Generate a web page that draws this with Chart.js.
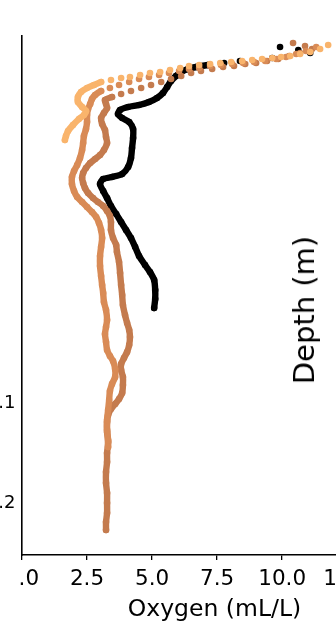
<!DOCTYPE html>
<html>
<head>
<meta charset="utf-8">
<script src="https://cdn.jsdelivr.net/npm/chart.js@4/dist/chart.umd.min.js"></script>
<style>
  html, body { margin: 0; padding: 0; background: #fff; overflow: hidden; width: 336px; height: 625px; }
  #wrap {
    position: absolute; left: -10px; top: 0; width: 440px; height: 625px;
    clip-path: polygon(0 0, 440px 0, 440px 625px, 30px 625px, 30px 562px, 0 562px);
  }
  #depthLabel {
    position: absolute; left: 304px; top: 310px;
    transform: translate(-50%, -50%) rotate(-90deg);
    font: 29px "DejaVu Sans", sans-serif; color: #000; white-space: nowrap;
  }
</style>
</head>
<body>
<div id="wrap"><canvas id="c" width="440" height="625"></canvas></div>
<div id="depthLabel">Depth (m)</div>
<script>
// Oxygen profiles (mL/L) against depth, one cast per array pair.
const oxygenTicks = [0, 2.5, 5, 7.5, 10, 12.5];
const depthTicks = [0.1, 0.2];

// Cast A (light orange)
const castAOxygen = [11.77, 11.46, 11.08, 10.69, 10.31, 9.96, 9.62, 9.23, 8.85, 8.46, 8.04, 7.62, 7.23, 6.81, 6.42, 6.08, 5.69, 5.31, 4.92, 4.54, 4.15, 3.81, 3.42, 3.04,
  2.77, 2.50, 2.27, 2.15, 2.15, 2.31, 2.46, 2.38, 2.19, 1.96, 1.77, 1.69, 1.65];
const castADepth = [-0.258, -0.254, -0.251, -0.249, -0.247, -0.246, -0.245, -0.244, -0.243, -0.242, -0.241, -0.240, -0.239, -0.238, -0.237, -0.235, -0.233, -0.231, -0.230, -0.228, -0.226, -0.225, -0.223, -0.221,
  -0.218, -0.215, -0.211, -0.206, -0.201, -0.196, -0.192, -0.188, -0.184, -0.178, -0.172, -0.167, -0.163];

// Cast B (light copper)
const castBOxygen = [11.31, 10.92, 10.54, 10.15, 9.77, 9.35, 8.92, 8.50, 8.08, 7.65, 7.23, 6.81, 6.42, 6.04, 5.65, 5.27, 4.88, 4.50, 4.12, 3.73, 3.38, 3.04,
  2.81, 2.69, 2.62, 2.54, 2.50, 2.50, 2.46, 2.38, 2.35, 2.31, 2.23, 2.12, 2.00, 1.92, 1.92, 2.00, 2.12, 2.31, 2.50, 2.69, 2.85, 2.96,
  3.04, 3.08, 3.04, 3.00, 3.00, 3.04, 3.08, 3.12, 3.15, 3.23, 3.27, 3.23, 3.19, 3.23, 3.27, 3.38, 3.50, 3.58, 3.58, 3.46, 3.38,
  3.35, 3.31, 3.27, 3.27, 3.31, 3.31];
const castBDepth = [-0.256, -0.252, -0.249, -0.246, -0.244, -0.242, -0.241, -0.240, -0.239, -0.238, -0.237, -0.235, -0.234, -0.232, -0.230, -0.228, -0.226, -0.224, -0.221, -0.218, -0.215, -0.212,
  -0.208, -0.204, -0.199, -0.194, -0.188, -0.181, -0.174, -0.167, -0.160, -0.153, -0.145, -0.138, -0.132, -0.126, -0.119, -0.112, -0.106, -0.101, -0.096, -0.091, -0.086, -0.080,
  -0.073, -0.065, -0.056, -0.047, -0.037, -0.027, -0.018, -0.010, -0.001, 0.007, 0.017, 0.024, 0.031, 0.039, 0.047, 0.053, 0.058, 0.066, 0.074, 0.081, 0.088,
  0.097, 0.107, 0.117, 0.127, 0.137, 0.144];

// Cast C (dark copper)
const castCOxygen = [10.42, 10.88, 11.15, 10.69, 10.27, 9.85, 9.42, 9.00, 8.58, 8.15, 7.73, 7.31, 6.88, 6.50, 6.12, 5.73, 5.35, 4.96, 4.58, 4.19, 3.81, 3.46,
  3.19, 3.23, 3.27, 3.15, 3.04, 3.08, 3.19, 3.23, 3.27, 3.15, 3.00, 2.81, 2.62, 2.46, 2.35, 2.31, 2.35, 2.42, 2.54, 2.73, 2.92, 3.12,
  3.27, 3.38, 3.42, 3.42, 3.50, 3.62, 3.65, 3.73, 3.77, 3.81, 3.85, 3.88, 3.96, 4.04, 4.12, 4.15, 4.12, 4.04, 3.92, 3.81, 3.81,
  3.88, 3.88, 3.85, 3.73, 3.58, 3.42, 3.31, 3.27, 3.27, 3.31, 3.27, 3.27, 3.23, 3.23, 3.27, 3.27, 3.27, 3.23, 3.23];
const castCDepth = [-0.260, -0.257, -0.254, -0.250, -0.247, -0.244, -0.242, -0.240, -0.239, -0.237, -0.236, -0.234, -0.232, -0.230, -0.227, -0.224, -0.221, -0.218, -0.215, -0.212, -0.209, -0.206,
  -0.203, -0.199, -0.195, -0.190, -0.185, -0.179, -0.173, -0.166, -0.160, -0.153, -0.148, -0.144, -0.140, -0.135, -0.130, -0.125, -0.120, -0.115, -0.110, -0.105, -0.101, -0.097,
  -0.092, -0.087, -0.081, -0.073, -0.065, -0.058, -0.051, -0.041, -0.030, -0.018, -0.008, 0.002, 0.012, 0.020, 0.027, 0.034, 0.042, 0.049, 0.055, 0.061, 0.067,
  0.074, 0.082, 0.090, 0.096, 0.101, 0.106, 0.112, 0.119, 0.129, 0.139, 0.150, 0.159, 0.169, 0.180, 0.190, 0.200, 0.210, 0.219, 0.227];

// Cast D (black)
const castDOxygen = [9.92, 10.62, 11.08, 9.62, 8.38, 7.77, 7.15, 6.69,
  6.38, 6.12, 5.92, 5.73, 5.58, 5.42, 5.19, 4.88, 4.50, 4.08, 3.77, 3.69, 3.85, 4.12, 4.27, 4.27, 4.23, 4.19, 4.08, 3.85,
  3.46, 3.12, 3.00, 3.12, 3.27, 3.42, 3.62, 3.81, 4.00, 4.19, 4.35, 4.50, 4.73, 4.92, 5.08, 5.12, 5.12, 5.08];
const castDDepth = [-0.256, -0.253, -0.250, -0.245, -0.242, -0.240, -0.238, -0.236,
  -0.234, -0.231, -0.227, -0.222, -0.216, -0.210, -0.205, -0.201, -0.198, -0.196, -0.193, -0.189, -0.185, -0.181, -0.174, -0.165, -0.155, -0.145, -0.136, -0.129,
  -0.126, -0.124, -0.119, -0.112, -0.105, -0.097, -0.089, -0.081, -0.073, -0.065, -0.056, -0.047, -0.038, -0.031, -0.023, -0.013, -0.004, 0.005];

const FONT = '"DejaVu Sans", sans-serif';

function toPoints(ox, dep) {
  return ox.map((v, i) => ({ x: v, y: dep[i] }));
}

// Near the surface the samples are far apart horizontally and show as separate dots;
// below that, consecutive samples are joined into a continuous trace.
function cast(ox, dep, color, dots) {
  return {
    data: toPoints(ox, dep),
    showLine: true,
    borderColor: color,
    backgroundColor: color,
    borderWidth: 6.4,
    borderCapStyle: 'round',
    borderJoinStyle: 'round',
    tension: 0.25,
    pointRadius: 3.3,
    pointHoverRadius: 3.3,
    pointBorderWidth: 0,
    pointBackgroundColor: color,
    segment: {
      borderColor: ctx => (ctx.p1DataIndex < dots ? 'rgba(0,0,0,0)' : color)
    }
  };
}

new Chart(document.getElementById('c'), {
  type: 'scatter',
  data: {
    datasets: [
      cast(castAOxygen, castADepth, '#f9b46c', 24),
      cast(castBOxygen, castBDepth, '#d98b56', 22),
      cast(castCOxygen, castCDepth, '#c47b4e', 22),
      cast(castDOxygen, castDDepth, '#000000', 7)
    ]
  },
  options: {
    responsive: false,
    animation: false,
    devicePixelRatio: 1,
    events: [],
    layout: { padding: { top: 36, right: 23, left: 0, bottom: 0 } },
    plugins: { legend: { display: false }, tooltip: { enabled: false } },
    scales: {
      x: {
        type: 'linear',
        position: 'bottom',
        min: 0,
        max: 14.8,
        afterBuildTicks: s => { s.ticks = oxygenTicks.map(v => ({ value: v })); },
        afterFit: s => { s.height = 70; },
        ticks: {
          callback: v => Number(v).toFixed(1),
          font: { family: FONT, size: 21.5 },
          color: '#000',
          padding: 7,
          maxRotation: 0,
          autoSkip: false
        },
        grid: { display: true, drawOnChartArea: false, drawTicks: true, tickLength: 5, color: '#000', lineWidth: 1.3 },
        border: { display: true, color: '#000', width: 1.6 },
        title: {
          display: true,
          text: 'Oxygen (mL/L)',
          font: { family: FONT, size: 23.5 },
          color: '#000',
          padding: { top: 0, bottom: 1 }
        }
      },
      y: {
        type: 'linear',
        position: 'left',
        reverse: true,
        min: -0.267,
        max: 0.252,
        afterBuildTicks: s => { s.ticks = depthTicks.map(v => ({ value: v })); },
        afterFit: s => { s.width = 32; },
        ticks: {
          callback: v => Number(v).toFixed(1),
          font: { family: FONT, size: 18 },
          color: '#000',
          padding: 6.5,
          autoSkip: false
        },
        grid: { display: false, drawTicks: false },
        border: { display: true, color: '#000', width: 1.6 }
      }
    }
  }
});
</script>
</body>
</html>
